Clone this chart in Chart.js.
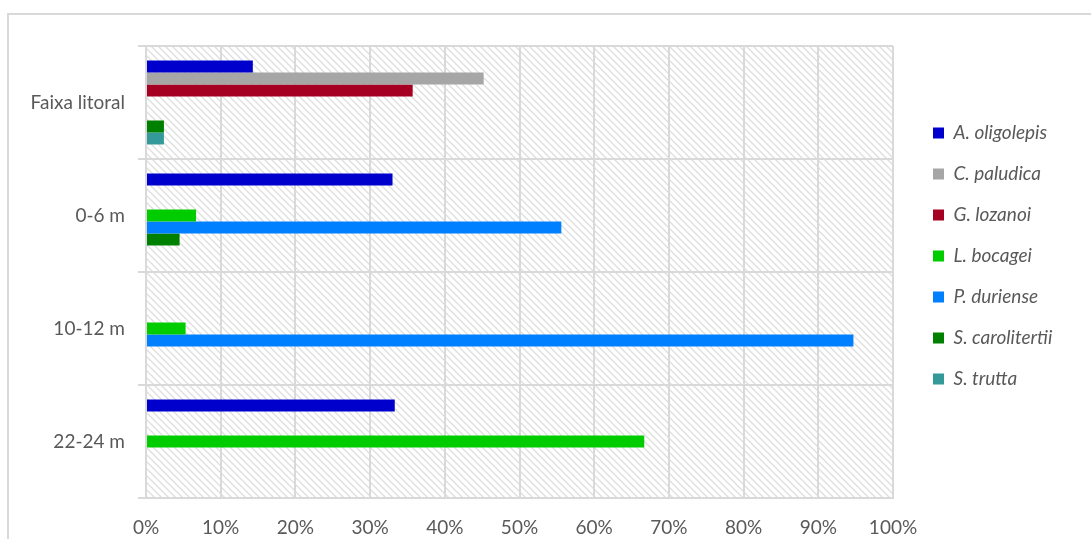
<!DOCTYPE html>
<html>
<head>
<meta charset="utf-8">
<title>Espécies por profundidade</title>
<script src="https://cdn.jsdelivr.net/npm/chart.js@4.4.1/dist/chart.umd.min.js"></script>
<style>
  html, body { margin: 0; padding: 0; background: #ffffff; overflow: hidden; }
  #frame {
    position: absolute; left: 7px; top: 13px; width: 1200px; height: 700px;
    border: 2px solid #d9d9d9; box-sizing: border-box;
  }
  #wrap { position: absolute; left: 0; top: 0; width: 1091px; height: 539px; }
</style>
</head>
<body>
<div id="frame"></div>
<div id="wrap"><canvas id="c" width="1091" height="539"></canvas></div>
<script>
// Depth zones (categories)
const zones = ['Faixa litoral', '0-6 m', '10-12 m', '22-24 m'];

// Share of catch per species in each zone (%)
const aOligolepis    = [14.3, 33.0, null, 33.3];
const cPaludica      = [45.2, null, null, null];
const gLozanoi       = [35.7, null, null, null];
const lBocagei       = [null, 6.7, 5.3, 66.7];
const pDuriense      = [null, 55.6, 94.7, null];
const sCarolitertii  = [2.4, 4.5, null, null];
const sTrutta        = [2.4, null, null, null];

// Axis ticks (%)
const xTicks = [0, 10, 20, 30, 40, 50, 60, 70, 80, 90, 100];

const species = [
  { label: 'A. oligolepis',   data: aOligolepis,   color: '#0000CC' },
  { label: 'C. paludica',     data: cPaludica,     color: '#A6A6A6' },
  { label: 'G. lozanoi',      data: gLozanoi,      color: '#A50021' },
  { label: 'L. bocagei',      data: lBocagei,      color: '#00CC00' },
  { label: 'P. duriense',     data: pDuriense,     color: '#0080FF' },
  { label: 'S. carolitertii', data: sCarolitertii, color: '#008000' },
  { label: 'S. trutta',       data: sTrutta,       color: '#339999' }
];

const labelColor = '#595959';
const gridColor = '#d9d9d9';
const family = 'Lato, "Open Sans", sans-serif';
const fontSize = 19;
const baseFont = { family: family, size: fontSize };
const legendFont = { family: family, size: fontSize, style: 'italic' };

// Legend geometry
const legendPad = 22;
const legendBox = 11;
const plotRight = 893;
const legendLeft = 911;

// Plot area right edge, fixed once the layout has run
const plotEdge = {
  id: 'plotEdge',
  beforeLayout(chart) {
    chart.options.layout.padding.right = chart._edgePad || 0;
  },
  afterLayout(chart) {
    const diff = chart.chartArea.right - plotRight;
    if (Math.abs(diff) > 0.5 && !chart._edgeFixed) {
      chart._edgeFixed = true;
      chart._edgePad = (chart._edgePad || 0) + diff;
      chart.update();
      return;
    }
    const lg = chart.legend;
    if (!lg) return;
    const w = lg.width;
    lg.left = legendLeft; lg.right = legendLeft + w;
    lg.top = 0; lg.bottom = 512; lg.height = 512;
  }
};

// Diagonal hatch behind the plot area
const hatchPlugin = {
  id: 'hatch',
  beforeDraw(chart) {
    const a = chart.chartArea;
    const s = 7;
    const tile = document.createElement('canvas');
    tile.width = s; tile.height = s;
    const t = tile.getContext('2d');
    t.fillStyle = '#ffffff';
    t.fillRect(0, 0, s, s);
    t.strokeStyle = '#dedede';
    t.lineWidth = 1.3;
    t.beginPath();
    t.moveTo(0, 0); t.lineTo(s, s);
    t.moveTo(-1, s - 1); t.lineTo(1, s + 1);
    t.moveTo(s - 1, -1); t.lineTo(s + 1, 1);
    t.stroke();
    const ctx = chart.ctx;
    ctx.save();
    ctx.fillStyle = ctx.createPattern(tile, 'repeat');
    ctx.fillRect(a.left, a.top, a.right - a.left, a.bottom - a.top);
    ctx.restore();
  }
};

new Chart(document.getElementById('c'), {
  type: 'bar',
  data: {
    labels: zones,
    datasets: species.map(s => ({
      label: s.label,
      data: s.data,
      backgroundColor: s.color,
      borderWidth: 0,
      categoryPercentage: 0.743,
      barPercentage: 1.0
    }))
  },
  options: {
    indexAxis: 'y',
    responsive: false,
    animation: false,
    layout: { padding: { top: 46, left: 0, right: 0, bottom: 0 } },
    scales: {
      x: {
        min: 0, max: 100,
        afterBuildTicks(scale) { scale.ticks = xTicks.map(v => ({ value: v })); },
        afterFit(scale) { scale.height = 41; },
        ticks: {
          color: labelColor, font: baseFont, padding: 18,
          callback: v => v + '%'
        },
        grid: { color: gridColor, lineWidth: 2, drawTicks: false },
        border: { color: gridColor, width: 2 }
      },
      y: {
        afterFit(scale) { scale.width = 146; },
        ticks: { color: labelColor, font: baseFont, padding: 13 },
        grid: { color: gridColor, lineWidth: 2, drawTicks: true, tickLength: 8, offset: true },
        border: { color: gridColor, width: 2 }
      }
    },
    plugins: {
      legend: {
        position: 'right',
        labels: {
          boxWidth: legendBox, boxHeight: legendBox, padding: legendPad,
          color: labelColor,
          font: legendFont
        }
      },
      tooltip: { enabled: false }
    }
  },
  plugins: [hatchPlugin, plotEdge]
});
</script>
</body>
</html>
